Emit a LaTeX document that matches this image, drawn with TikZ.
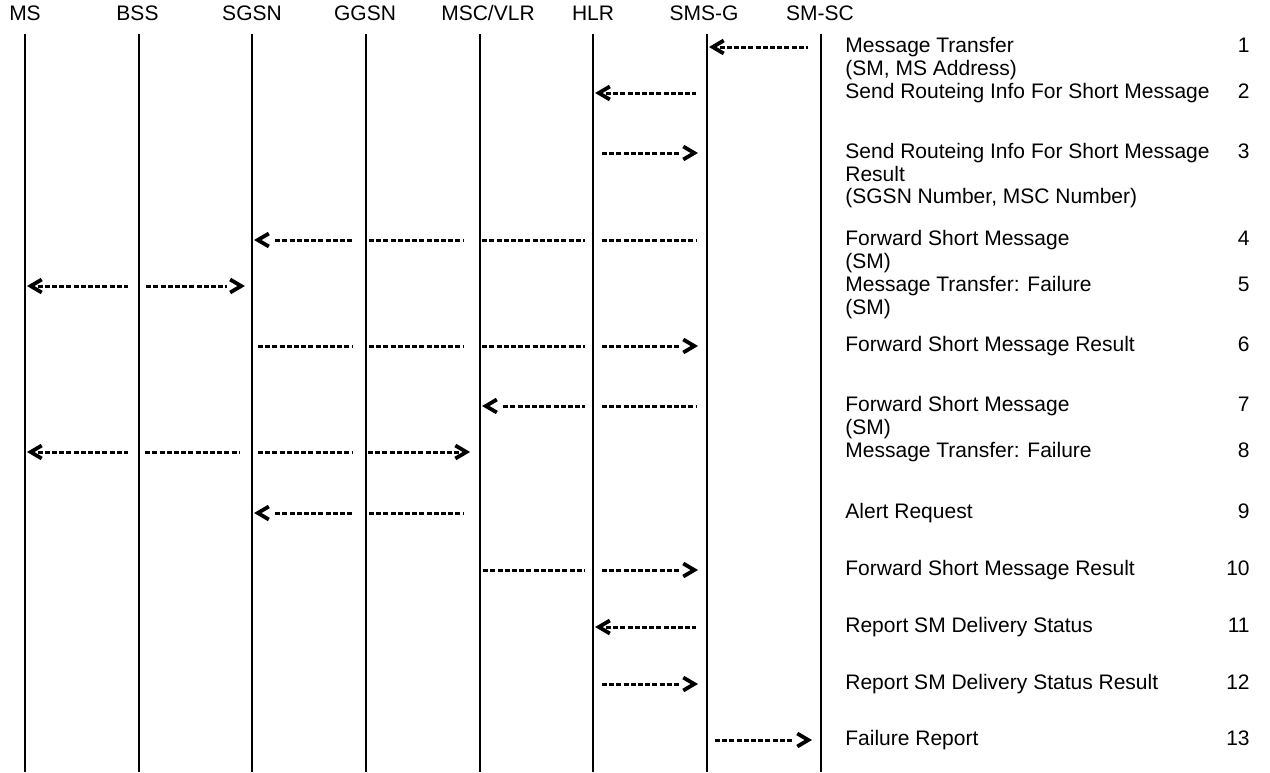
\documentclass[tikz,border=0pt]{standalone}
\usepackage{fontspec}
\setmainfont{Liberation Sans}
\usetikzlibrary{arrows.meta, decorations.markings}
\newcommand\msgrows[1]{\begin{tabular}[t]{@{}l@{}}#1\end{tabular}}
\tikzset{
  head/.style={anchor=base, inner sep=0pt},
  lifeline/.style={line width=1pt},
  msg/.style={line width=1.5pt, dash pattern=on 2.5pt off 1.1pt},
  barb/.style={solid, line width=1.9pt},
  % solid tip placed at a distance from the start or the end of the connector
  tipl/.style={postaction={decorate, decoration={markings,
    mark=at position #1 with {\arrowreversed[barb]{Straight Barb[length=5.5pt,width=6.5pt]}}}}},
  tipr/.style={postaction={decorate, decoration={markings,
    mark=at position -#1 with {\arrow[barb]{Straight Barb[length=5.5pt,width=6.5pt]}}}}},
  msgtext/.style={anchor=base west, inner sep=0pt},
  stepno/.style={anchor=base east, inner sep=0pt}
}
\begin{document}
\begin{tikzpicture}[x=0.5pt, y=-0.5pt, font=\fontsize{10.5}{11.25}\selectfont]
\useasboundingbox (0,0) rectangle (1270,772);
% entities
\node[head] (mshd) at (25,20) {MS};
\node[head] (bsshd) at (137.5,20) {BSS};
\node[head] (sgsnhd) at (252,20) {SGSN};
\node[head] (ggsnhd) at (365,20) {GGSN};
\node[head] (mschd) at (488,20) {MSC/VLR};
\node[head] (hlrhd) at (593,20) {HLR};
\node[head] (smsghd) at (704,20) {SMS-G};
\node[head] (smschd) at (820,20) {SM-SC};
\foreach \n/\x in {ms/25,bss/138.7,sgsn/252.3,ggsn/366,msc/479.7,hlr/593.3,smsg/707,smsc/820.6}{
  \coordinate (\n-top) at (\x,34);
  \coordinate (\n-bot) at (\x,772);
  \draw[lifeline] (\n-top) -- (\n-bot);
}
% message rows
\foreach \r/\y in {1/47,2/93,3/153,4/240,5/286,6/346,7/406,8/452,9/513,10/570,11/627,12/684,13/740}
  \coordinate (r\r) at (0,\y);
% 1
\draw[msg, tipl=1pt, shorten <=6.3pt, shorten >=6.3pt] (smsg-top |- r1) -- (smsc-top |- r1);
% 2
\draw[msg, tipl=0.9pt, shorten <=6.3pt, shorten >=5.5pt] (hlr-top |- r2) -- (smsg-top |- r2);
% 3
\draw[msg, tipr=4.5pt, shorten <=4.3pt, shorten >=13.5pt] (hlr-top |- r3) -- (smsg-top |- r3);
% 4
\draw[msg, tipl=0.9pt, shorten <=11.4pt, shorten >=7pt] (sgsn-top |- r4) -- (ggsn-top |- r4);
\draw[msg, shorten <=1.5pt, shorten >=8.3pt] (ggsn-top |- r4) -- (msc-top |- r4);
\draw[msg, shorten <=1.2pt, shorten >=4.2pt] (msc-top |- r4) -- (hlr-top |- r4);
\draw[msg, shorten <=4.3pt, shorten >=5pt] (hlr-top |- r4) -- (smsg-top |- r4);
% 5
\draw[msg, tipl=1pt, shorten <=6.3pt, shorten >=5.3pt] (ms-top |- r5) -- (bss-top |- r5);
\draw[msg, tipr=3.7pt, shorten <=3.7pt, shorten >=12.7pt] (bss-top |- r5) -- (sgsn-top |- r5);
% 6
\draw[msg, shorten <=2.8pt, shorten >=7pt] (sgsn-top |- r6) -- (ggsn-top |- r6);
\draw[msg, shorten <=1.5pt, shorten >=8.3pt] (ggsn-top |- r6) -- (msc-top |- r6);
\draw[msg, shorten <=1.2pt, shorten >=4.2pt] (msc-top |- r6) -- (hlr-top |- r6);
\draw[msg, tipr=4.5pt, shorten <=4.3pt, shorten >=13.5pt] (hlr-top |- r6) -- (smsg-top |- r6);
% 7
\draw[msg, tipl=1.2pt, shorten <=11.7pt, shorten >=4.2pt] (msc-top |- r7) -- (hlr-top |- r7);
\draw[msg, shorten <=4.3pt, shorten >=5pt] (hlr-top |- r7) -- (smsg-top |- r7);
% 8
\draw[msg, tipl=1pt, shorten <=6.3pt, shorten >=5.3pt] (ms-top |- r8) -- (bss-top |- r8);
\draw[msg, shorten <=3.2pt, shorten >=6.2pt] (bss-top |- r8) -- (sgsn-top |- r8);
\draw[msg, shorten <=2.8pt, shorten >=7pt] (sgsn-top |- r8) -- (ggsn-top |- r8);
\draw[msg, tipr=4.8pt, shorten <=1pt, shorten >=9.8pt] (ggsn-top |- r8) -- (msc-top |- r8);
% 9
\draw[msg, tipl=0.9pt, shorten <=11.4pt, shorten >=7pt] (sgsn-top |- r9) -- (ggsn-top |- r9);
\draw[msg, shorten <=1.5pt, shorten >=8.3pt] (ggsn-top |- r9) -- (msc-top |- r9);
% 10
\draw[msg, shorten <=1.7pt, shorten >=4.2pt] (msc-top |- r10) -- (hlr-top |- r10);
\draw[msg, tipr=4.5pt, shorten <=4.3pt, shorten >=13.5pt] (hlr-top |- r10) -- (smsg-top |- r10);
% 11
\draw[msg, tipl=0.9pt, shorten <=6.3pt, shorten >=5.5pt] (hlr-top |- r11) -- (smsg-top |- r11);
% 12
\draw[msg, tipr=4.5pt, shorten <=4.3pt, shorten >=13.5pt] (hlr-top |- r12) -- (smsg-top |- r12);
% 13
\draw[msg, tipr=4.3pt, shorten <=4pt, shorten >=13.3pt] (smsg-top |- r13) -- (smsc-top |- r13);
% message names and numbers
\foreach \r/\y/\txt in {1/47/{Message Transfer\\(SM, MS Address)},
    2/93/{Send Routeing Info For Short Message},
    3/153/{Send Routeing Info For Short Message\\Result\\(SGSN Number, MSC Number)},
    4/240/{Forward Short Message\\(SM)},
    5/286/{Message Transfer: Failure\\(SM)},
    6/346/{Forward Short Message Result},
    7/406/{Forward Short Message\\(SM)},
    8/452/{Message Transfer: Failure},
    9/513/{Alert Request},
    10/570/{Forward Short Message Result},
    11/627/{Report SM Delivery Status},
    12/684/{Report SM Delivery Status Result},
    13/740/{Failure Report}}{
  \node[msgtext] (t\r) at (845,\y+5.5) {\msgrows{\txt}};
  \node[stepno] (n\r) at (1250,\y+5.5) {\r};
}
\end{tikzpicture}
\end{document}
